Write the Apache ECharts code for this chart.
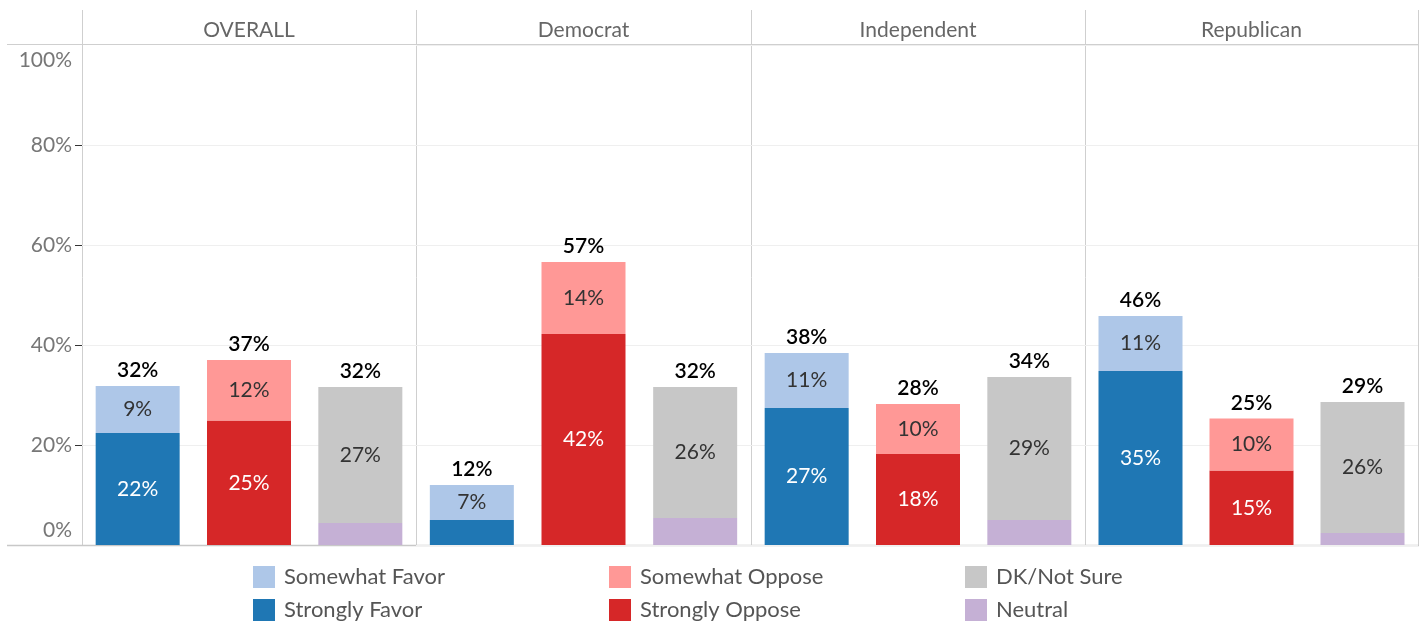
<!DOCTYPE html>
<html>
<head>
<meta charset="utf-8">
<script src="https://cdn.jsdelivr.net/npm/echarts@6/dist/echarts.min.js"></script>
<style>
  html, body { margin: 0; padding: 0; background: #fff; }
  #chart { width: 1427px; height: 623px; }
</style>
</head>
<body>
<div id="chart"></div>
<script>
// Panels (party breakdown) and the three response bars inside each panel
const panels = ['OVERALL', 'Democrat', 'Independent', 'Republican'];
const responseGroups = ['Favor', 'Oppose', 'Not Sure'];

// Shares in percent, one value per panel
const stronglyFavor  = [22.4, 5.0, 27.4, 34.8];
const somewhatFavor  = [9.4, 7.0, 11.0, 11.0];
const stronglyOppose = [24.9, 42.2, 18.2, 14.9];
const somewhatOppose = [12.1, 14.4, 10.0, 10.4];
const neutral        = [4.4, 5.4, 5.0, 2.4];
const dkNotSure      = [27.2, 26.2, 28.6, 26.2];

// Value axis ticks
const yTicks = [0, 20, 40, 60, 80, 100];

const FONT = 'Lato';

// Segment definitions: which bar they belong to (0 favor, 1 oppose, 2 not sure)
const segments = [
  { name: 'Strongly Favor',  values: stronglyFavor,  bar: 0, color: '#1f77b4', text: '#ffffff' },
  { name: 'Somewhat Favor',  values: somewhatFavor,  bar: 0, color: '#aec7e8', text: '#333333' },
  { name: 'Strongly Oppose', values: stronglyOppose, bar: 1, color: '#d62728', text: '#ffffff' },
  { name: 'Somewhat Oppose', values: somewhatOppose, bar: 1, color: '#ff9896', text: '#333333' },
  { name: 'Neutral',         values: neutral,        bar: 2, color: '#c5b0d5', text: '#333333' },
  { name: 'DK/Not Sure',     values: dkNotSure,      bar: 2, color: '#c7c7c7', text: '#333333' }
];

// Bar totals per panel, summed from the segments
const totals = panels.map((_, p) =>
  responseGroups.map((_, b) =>
    segments.filter(s => s.bar === b).reduce((acc, s) => acc + s.values[p], 0)
  )
);

// Panel geometry (pixel edges of each facet)
const edges = [82, 416, 751, 1085, 1418];
const plotTop = 45, plotBottom = 545;

const grids = [], xAxes = [], yAxes = [], series = [];

panels.forEach((panel, p) => {
  grids.push({ left: edges[p], top: plotTop, width: edges[p + 1] - edges[p], height: plotBottom - plotTop });
  xAxes.push({
    type: 'category', gridIndex: p, data: responseGroups,
    axisLabel: { show: false }, axisTick: { show: false }, axisLine: { show: false }
  });
  yAxes.push({
    type: 'value', gridIndex: p, min: yTicks[0], max: yTicks[yTicks.length - 1], interval: 20,
    axisLine: { show: false },
    splitLine: { show: true, lineStyle: { color: '#efefef', width: 1 } },
    axisTick: p === 0
      ? { show: true, length: 7, customValues: yTicks.slice(1, -1), lineStyle: { color: '#333', width: 1 } }
      : { show: false },
    axisLabel: p === 0
      ? {
          show: true, formatter: '{value}%', color: '#777', fontFamily: FONT, fontSize: 21, margin: 10,
          lineHeight: 30, verticalAlignMinLabel: 'bottom', verticalAlignMaxLabel: 'top'
        }
      : { show: false }
  });

  segments.forEach(seg => {
    series.push({
      name: seg.name, type: 'bar', stack: 'bars' + p,
      xAxisIndex: p, yAxisIndex: p, barWidth: 84,
      data: responseGroups.map((_, b) => (b === seg.bar ? seg.values[p] : '-')),
      itemStyle: { color: seg.color },
      label: {
        show: true, position: 'inside', color: seg.text, fontFamily: FONT, fontSize: 21,
        formatter: prm => (prm.value >= 6 ? Math.round(prm.value) + '%' : '')
      },
      emphasis: { disabled: true }
    });
  });

  // Zero-height cap carrying the total label above each stack
  series.push({
    name: 'Total', type: 'bar', stack: 'bars' + p,
    xAxisIndex: p, yAxisIndex: p, barWidth: 84,
    data: responseGroups.map(() => 0),
    itemStyle: { color: 'rgba(0,0,0,0)' },
    label: {
      show: true, position: 'top', distance: 5, color: '#000', fontFamily: FONT,
      fontSize: 21, fontWeight: 600,
      formatter: prm => Math.round(totals[p][prm.dataIndex]) + '%'
    },
    emphasis: { disabled: true }
  });
});

// Frame lines and facet headers
const lineStyle = { stroke: '#cfcfcf', lineWidth: 1 };
const graphics = [];
edges.forEach(x => {
  graphics.push({ type: 'line', shape: { x1: x + 0.5, y1: 10, x2: x + 0.5, y2: plotBottom }, style: lineStyle, silent: true });
});
graphics.push({ type: 'line', shape: { x1: 7, y1: plotTop - 0.5, x2: edges[4] + 1, y2: plotTop - 0.5 }, style: lineStyle, silent: true });
graphics.push({ type: 'line', shape: { x1: 7, y1: plotBottom + 0.5, x2: edges[4] + 1, y2: plotBottom + 0.5 }, style: { stroke: '#c8c8c8', lineWidth: 1.5 }, silent: true });
panels.forEach((panel, p) => {
  graphics.push({
    type: 'text', x: (edges[p] + edges[p + 1]) / 2, y: 30, silent: true,
    style: { text: panel, align: 'center', verticalAlign: 'middle', fill: '#666', fontFamily: FONT, fontSize: 21 }
  });
});

// Legend: three columns of two entries
const legendColumns = [
  ['Somewhat Favor', 'Strongly Favor'],
  ['Somewhat Oppose', 'Strongly Oppose'],
  ['DK/Not Sure', 'Neutral']
];
const legendLeft = [253, 609, 965];
const legends = legendColumns.map((col, i) => ({
  data: col, orient: 'vertical', left: legendLeft[i], top: 566, padding: 0,
  icon: 'rect', itemWidth: 22, itemHeight: 22, itemGap: 11, selectedMode: false,
  textStyle: { color: '#555', fontFamily: FONT, fontSize: 22, lineHeight: 22, padding: [0, 0, 0, 4] }
}));

const chart = echarts.init(document.getElementById('chart'), null, { renderer: 'canvas' });
chart.setOption({
  animation: false,
  backgroundColor: '#fff',
  grid: grids,
  xAxis: xAxes,
  yAxis: yAxes,
  legend: legends,
  graphic: graphics,
  series: series
});
</script>
</body>
</html>
